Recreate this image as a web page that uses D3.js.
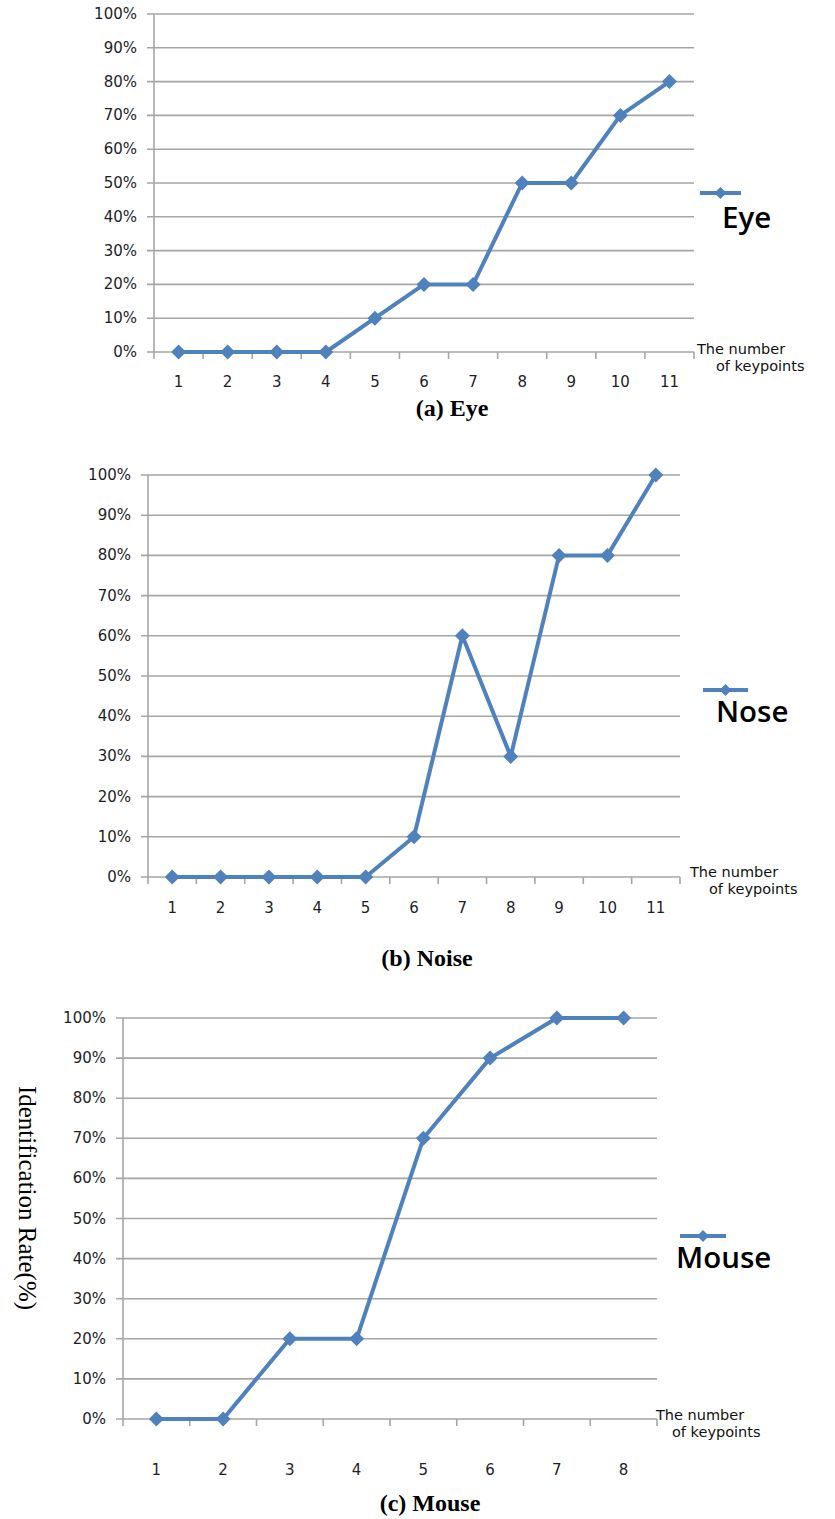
<!DOCTYPE html>
<html><head><meta charset="utf-8">
<script src="https://cdn.jsdelivr.net/npm/d3@7"></script>
<style>body{margin:0;background:#fff}svg{display:block}</style>
</head><body>
<svg id="c" width="835" height="1519"></svg>
<script>
// Data
const eyeCategories = ["1","2","3","4","5","6","7","8","9","10","11"];
const eyeValues = [0,0,0,0,10,20,20,50,50,70,80];
const noseCategories = ["1","2","3","4","5","6","7","8","9","10","11"];
const noseValues = [0,0,0,0,0,10,60,30,80,80,100];
const mouseCategories = ["1","2","3","4","5","6","7","8"];
const mouseValues = [0,0,20,20,70,90,100,100];
const yTicks = [0,10,20,30,40,50,60,70,80,90,100];
const seriesNames = ["Eye","Nose","Mouse"];
const captions = ["(a) Eye","(b) Noise","(c) Mouse"];
const axisTitle = ["The number","of keypoints"];
const yAxisLabel = "Identification Rate(%)";

const svg = d3.select("#c");
const blue = "#4f81bd", grid = "#a6a6a6";
const tickFont = "'DejaVu Sans', Verdana, sans-serif";

const panels = [
  {cats: eyeCategories, vals: eyeValues, name: seriesNames[0], cap: captions[0],
   l:154, r:694, t:14, b:352, xlab:387, capY:416, capX:452,
   atX:697, atX2:716, atY:354, legX1:700, legX2:741, legY:193, legTX:722, legTY:228},
  {cats: noseCategories, vals: noseValues, name: seriesNames[1], cap: captions[1],
   l:148, r:680, t:475, b:877, xlab:913, capY:966, capX:427,
   atX:690, atX2:709, atY:877, legX1:703, legX2:748, legY:690, legTX:716, legTY:722},
  {cats: mouseCategories, vals: mouseValues, name: seriesNames[2], cap: captions[2],
   l:123, r:657, t:1018, b:1419, xlab:1475, capY:1511, capX:430,
   atX:656, atX2:672, atY:1420, legX1:680, legX2:726, legY:1236, legTX:676, legTY:1268}
];

function diamondPath(r) {
  return `M0,${-r}L${r},0L0,${r}L${-r},0Z`;
}

panels.forEach(p => {
  const g = svg.append("g");
  const x = d3.scaleBand().domain(p.cats).range([p.l, p.r]);
  const y = d3.scaleLinear().domain([0,100]).range([p.b, p.t]);

  // gridlines
  g.selectAll("line.grid").data(yTicks).join("line")
    .attr("x1", p.l - 7).attr("x2", p.r)
    .attr("y1", d => y(d)).attr("y2", d => y(d))
    .attr("stroke", grid).attr("stroke-width", 1.6);
  // y axis line
  g.append("line").attr("x1", p.l).attr("x2", p.l).attr("y1", p.t).attr("y2", p.b)
    .attr("stroke", grid).attr("stroke-width", 1.6);
  // x tick marks at band boundaries
  const bounds = p.cats.map(c => x(c)).concat([p.r]);
  g.selectAll("line.xt").data(bounds).join("line")
    .attr("x1", d => d).attr("x2", d => d).attr("y1", p.b).attr("y2", p.b + 7)
    .attr("stroke", grid).attr("stroke-width", 1.6);
  // y labels
  g.selectAll("text.yl").data(yTicks).join("text")
    .attr("x", p.l - 17).attr("y", d => y(d) + 5)
    .attr("text-anchor", "end").attr("font-family", tickFont).attr("font-size", 15)
    .attr("fill", "#1e1e28").text(d => d + "%");
  // x labels
  g.selectAll("text.xl").data(p.cats).join("text")
    .attr("x", d => x(d) + x.bandwidth()/2).attr("y", p.xlab)
    .attr("text-anchor", "middle").attr("font-family", tickFont).attr("font-size", 15)
    .attr("fill", "#1e1e28").text(d => d);
  // line
  const line = d3.line().x((d,i) => x(p.cats[i]) + x.bandwidth()/2).y(d => y(d));
  g.append("path").datum(p.vals).attr("d", line)
    .attr("fill", "none").attr("stroke", blue).attr("stroke-width", 4)
    .attr("stroke-linejoin", "round");
  g.selectAll("path.m").data(p.vals).join("path")
    .attr("transform", (d,i) => `translate(${x(p.cats[i]) + x.bandwidth()/2},${y(d)})`)
    .attr("d", diamondPath(7.5)).attr("fill", blue);
  // axis title
  g.append("text").attr("x", p.atX).attr("y", p.atY)
    .attr("font-family", tickFont).attr("font-size", 14.5).attr("fill", "#111").text(axisTitle[0]);
  g.append("text").attr("x", p.atX2).attr("y", p.atY + 17)
    .attr("font-family", tickFont).attr("font-size", 14.5).attr("fill", "#111").text(axisTitle[1]);
  // legend
  g.append("line").attr("x1", p.legX1).attr("x2", p.legX2).attr("y1", p.legY).attr("y2", p.legY)
    .attr("stroke", blue).attr("stroke-width", 4);
  g.append("path").attr("transform", `translate(${(p.legX1+p.legX2)/2},${p.legY})`)
    .attr("d", diamondPath(6)).attr("fill", blue);
  g.append("text").attr("x", p.legTX).attr("y", p.legTY)
    .attr("font-family", "'Open Sans', sans-serif").attr("font-weight", 600)
    .attr("font-size", 29.5).attr("fill", "#000").text(p.name);
  // caption
  g.append("text").attr("x", p.capX).attr("y", p.capY).attr("text-anchor", "middle")
    .attr("font-family", "'Liberation Serif', 'Times New Roman', serif").attr("font-weight", "bold")
    .attr("font-size", 24).attr("fill", "#000").text(p.cap);
});

// rotated y label
svg.append("text").attr("transform", "translate(19,1198) rotate(90)")
  .attr("text-anchor", "middle")
  .attr("font-family", "'Liberation Serif', 'Times New Roman', serif")
  .attr("font-size", 25).attr("fill", "#000").text(yAxisLabel);
</script>
</body></html>
